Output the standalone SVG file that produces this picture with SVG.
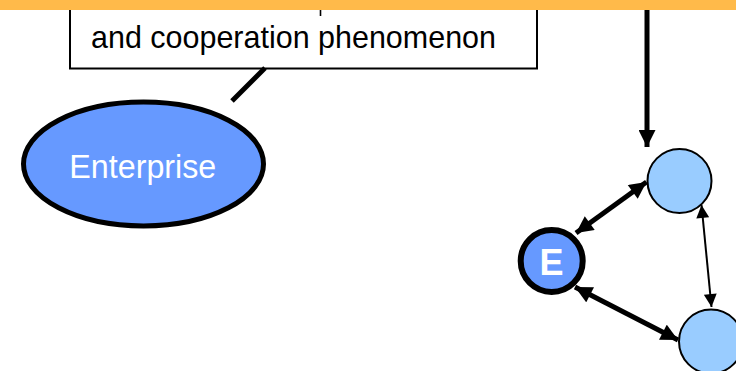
<svg xmlns="http://www.w3.org/2000/svg" width="736" height="371" viewBox="0 0 736 371">
  <defs>
    <style>
      .lbl { font-family: "Liberation Sans", Arial, sans-serif; }
      .thick { stroke: #000; stroke-width: 5; fill: none; }
      .thin { stroke: #000; stroke-width: 2; fill: none; }
      .peer { fill: #99CCFF; stroke: #000; stroke-width: 2; }
      .ent { fill: #6699FF; stroke: #000; }
    </style>
    <marker id="headBig" viewBox="0 0 10 10" refX="10" refY="5" markerWidth="18" markerHeight="17" markerUnits="userSpaceOnUse" orient="auto-start-reverse">
      <path d="M0,0 L10,5 L0,10 Z" fill="#000"/>
    </marker>
    <marker id="headSmall" viewBox="0 0 10 10" refX="10" refY="5" markerWidth="15" markerHeight="13" markerUnits="userSpaceOnUse" orient="auto-start-reverse">
      <path d="M0,0 L10,5 L0,10 Z" fill="#000"/>
    </marker>
  </defs>

  <rect width="736" height="371" fill="#fff"/>

  <!-- callout box -->
  <g id="callout">
    <rect x="70" y="-20" width="467" height="88.5" fill="#fff" stroke="#000" stroke-width="2"/>
    <line x1="320.5" y1="9" x2="320.5" y2="16" stroke="#000" stroke-width="1.6"/>
    <text class="lbl" x="91" y="47.5" font-size="32" textLength="405" lengthAdjust="spacingAndGlyphs">and cooperation phenomenon</text>
  </g>

  <!-- connectors -->
  <g id="connectors">
    <line class="thick" x1="265" y1="68" x2="232" y2="101"/>
    <line class="thick" x1="647" y1="0" x2="647" y2="147" marker-end="url(#headBig)"/>
    <line class="thick" x1="576" y1="233" x2="646.5" y2="182" marker-start="url(#headBig)" marker-end="url(#headBig)"/>
    <line class="thick" x1="575" y1="287" x2="678" y2="340" marker-start="url(#headBig)" marker-end="url(#headBig)"/>
    <line class="thin" x1="701.5" y1="205" x2="711.5" y2="307" marker-start="url(#headSmall)" marker-end="url(#headSmall)"/>
  </g>

  <!-- enterprise ellipse -->
  <g id="enterprise">
    <ellipse class="ent" cx="143.5" cy="164" rx="120" ry="62" stroke-width="5"/>
    <text class="lbl" x="142.8" y="177.5" font-size="34" fill="#fff" text-anchor="middle" textLength="147" lengthAdjust="spacingAndGlyphs">Enterprise</text>
  </g>

  <!-- network nodes -->
  <g id="nodeE">
    <circle class="ent" cx="551.7" cy="261" r="31" stroke-width="6"/>
    <text class="lbl" x="551.5" y="275" font-size="36" font-weight="bold" fill="#fff" text-anchor="middle">E</text>
  </g>
  <g id="peerTop">
    <circle class="peer" cx="679.5" cy="181" r="32"/>
  </g>
  <g id="peerBottom">
    <circle class="peer" cx="711" cy="341.5" r="32"/>
  </g>

  <!-- header bar -->
  <rect id="header" x="0" y="0" width="736" height="10" fill="#FFBA4A"/>
</svg>
